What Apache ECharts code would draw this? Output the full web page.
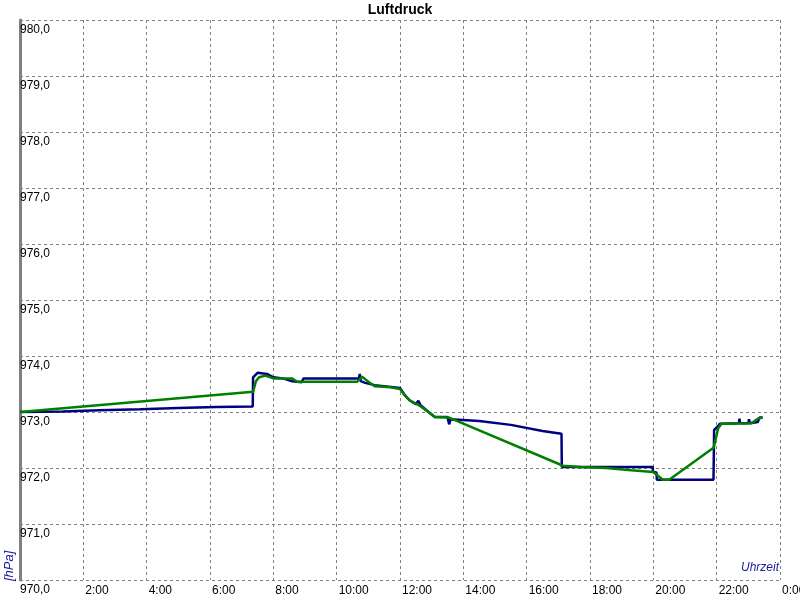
<!DOCTYPE html>
<html>
<head>
<meta charset="utf-8">
<script src="https://cdn.jsdelivr.net/npm/echarts@6/dist/echarts.min.js"></script>
<style>html,body{margin:0;padding:0;background:#fff}#c{width:800px;height:600px}</style>
</head>
<body>
<div id="c"></div>
<script>
// time in hours, pressure in hPa
const blueTimes = [0,1.35,2.5,3.8,5.0,6.2,7.35,7.36,7.5,7.8,8.0,8.3,8.6,8.9,8.95,10.7,10.73,10.76,10.9,11.2,12.0,12.15,12.3,12.5,12.58,12.65,12.9,13.1,13.5,13.55,13.6,14.5,15.5,16.5,17.1,17.11,19.98,19.99,20.1,20.11,21.9,21.92,22.05,22.1,22.7,22.72,22.74,23.0,23.02,23.05,23.3,23.35,23.45];
const blueValues = [973.00,973.01,973.03,973.05,973.07,973.09,973.10,973.62,973.70,973.68,973.62,973.60,973.55,973.53,973.60,973.60,973.68,973.55,973.52,973.48,973.43,973.30,973.21,973.14,973.20,973.12,973.00,972.91,972.91,972.78,972.87,972.84,972.77,972.66,972.61,972.02,972.02,971.93,971.92,971.79,971.79,972.68,972.75,972.79,972.80,972.88,972.80,972.80,972.87,972.80,972.82,972.90,972.90];
const greenTimes = [0,7.36,7.45,7.55,7.75,8.0,8.6,8.75,10.65,10.8,11.05,11.2,11.7,12.0,12.15,12.3,12.6,12.9,13.1,13.55,17.15,17.7,18.5,19.3,20.0,20.3,20.5,21.9,22.05,22.15,23.1,23.3,23.45];
const greenValues = [973.00,973.36,973.55,973.62,973.65,973.60,973.60,973.54,973.54,973.63,973.52,973.46,973.44,973.41,973.30,973.21,973.12,973.00,972.91,972.90,972.04,972.02,972.00,971.96,971.93,971.79,971.79,972.36,972.71,972.79,972.80,972.88,972.90];
const xTicks = [0,2,4,6,8,10,12,14,16,18,20,22,24];
const yTicks = [970,971,972,973,974,975,976,977,978,979,980];

const zip = (t, v) => t.map((x, i) => [x, v[i]]);
const font = "'Liberation Sans',Arial,sans-serif";
const chart = echarts.init(document.getElementById('c'));
chart.setOption({
  animation: false,
  backgroundColor: '#fff',
  title: { text: 'Luftdruck', left: 'center', top: 0, padding: [3, 5], textStyle: { fontFamily: font, fontWeight: 'bold', fontSize: 14, color: '#000' } },
  grid: { left: 20, right: 20, top: 20, bottom: 20, outerBoundsMode: 'none', containLabel: false },
  xAxis: {
    type: 'value', min: 0, max: 24, interval: 2,
    axisLine: { show: false }, axisTick: { show: false },
    splitLine: { show: true, lineStyle: { color: '#808080', type: [3, 3], width: 1 } },
    axisLabel: {
      showMaxLabel: true, showMinLabel: true, align: 'left', margin: 5, padding: [0, 0, 0, 2],
      color: '#000', fontSize: 12, fontFamily: font, hideOverlap: false,
      formatter: v => xTicks.includes(v) && v !== 0 ? (v % 24) + ':00' : ''
    }
  },
  yAxis: {
    type: 'value', min: 970, max: 980, interval: 1,
    axisLine: { show: true, lineStyle: { color: '#808080', width: 3 } }, axisTick: { show: false },
    splitLine: { show: true, lineStyle: { color: '#808080', type: [3, 3], width: 1 } },
    axisLabel: {
      inside: true, align: 'left', verticalAlign: 'top', margin: 0, padding: [4, 0, 0, 0],
      showMinLabel: true, showMaxLabel: true, hideOverlap: false,
      color: '#000', fontSize: 12, fontFamily: font,
      formatter: v => yTicks.includes(v) ? v.toFixed(1).replace('.', ',') : ''
    }
  },
  graphic: [
    { type: 'text', left: 741, top: 562, style: { text: 'Uhrzeit', fill: '#1a1a9a', font: "italic 12px " + font } },
    { type: 'text', x: 3, y: 581, rotation: Math.PI / 2, style: { text: '[hPa]', fill: '#1a1a9a', font: "italic 13px " + font, textAlign: 'left', textVerticalAlign: 'top' } }
  ],
  series: [
    { type: 'line', data: zip(blueTimes, blueValues), showSymbol: false, lineStyle: { color: '#000080', width: 2.5 }, itemStyle: { color: '#000080' } },
    { type: 'line', data: zip(greenTimes, greenValues), showSymbol: false, lineStyle: { color: '#008000', width: 2.5 }, itemStyle: { color: '#008000' } }
  ]
});
</script>
</body>
</html>
